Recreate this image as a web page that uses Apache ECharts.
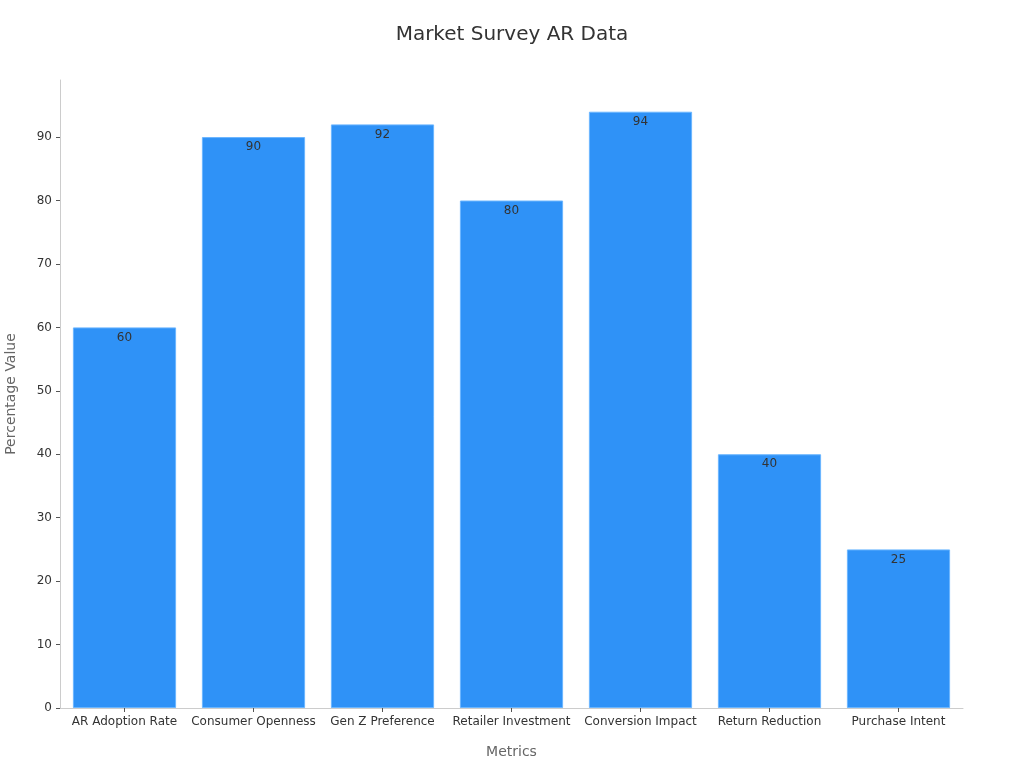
<!DOCTYPE html>
<html><head><meta charset="utf-8">
<script src="https://cdn.jsdelivr.net/npm/echarts@6/dist/echarts.min.js"></script>
<style>html,body{margin:0;padding:0;background:#fff}#c{width:1024px;height:768px}</style>
</head><body><div id="c"></div>
<script>
var categories = ["AR Adoption Rate","Consumer Openness","Gen Z Preference","Retailer Investment","Conversion Impact","Return Reduction","Purchase Intent"];
var values = [60, 90, 92, 80, 94, 40, 25];
var chart = echarts.init(document.getElementById('c'));
chart.setOption({
  animation: false,
  textStyle: {fontFamily: 'DejaVu Sans'},
  title: {text: 'Market Survey AR Data', left: 'center', top: 20,
    textStyle: {fontSize: 20, fontWeight: 'normal', color: '#333', fontFamily: 'DejaVu Sans'}},
  grid: {left: 60, right: 61, top: 80, bottom: 60, containLabel: false, outerBoundsMode: 'none'},
  xAxis: {type: 'category', data: categories, name: 'Metrics', nameLocation: 'middle', nameGap: 37,
    nameTextStyle: {fontSize: 14, color: '#666'},
    axisLine: {lineStyle: {color: '#ccc'}},
    axisTick: {show: true, alignWithLabel: true, lineStyle: {color: '#555'}, length: 4},
    axisLabel: {fontSize: 12, color: '#333', interval: 0}},
  yAxis: {type: 'value', min: 0, max: 99, interval: 10, name: 'Percentage Value', nameLocation: 'middle', nameGap: 42,
    nameTextStyle: {fontSize: 14, color: '#666'},
    axisLine: {show: true, lineStyle: {color: '#ccc'}},
    axisTick: {show: true, lineStyle: {color: '#555'}, length: 4},
    splitLine: {show: false},
    axisLabel: {fontSize: 12, color: '#333', showMaxLabel: false}},
  series: [{type: 'bar', data: values, barCategoryGap: '20%',
    itemStyle: {color: '#2F92F7', borderColor: '#6BB6FF', borderWidth: 1},
    label: {show: true, position: 'insideTop', color: '#333', fontSize: 12, distance: 4}}]
});
</script></body></html>
